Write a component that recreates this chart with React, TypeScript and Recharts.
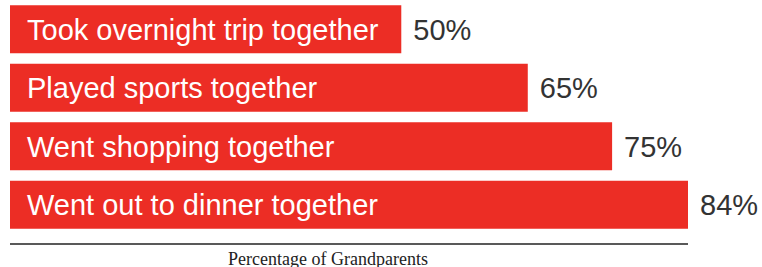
import { Bar, BarChart, LabelList, XAxis, YAxis, Label } from "recharts";

// activities, top to bottom, and share of grandparents who did each
const activities = [
  "Took overnight trip together",
  "Played sports together",
  "Went shopping together",
  "Went out to dinner together",
];
const shares = [50, 65, 75, 84];

// the printed bars do not start at zero, the scale is offset slightly
const xDomain: [number, number] = [3.6, 84];

const RED = "#ec2d25";
const rows = activities.map((name, i) => ({ name, share: shares[i] }));

export default function App() {
  return (
    <div style={{ position: "absolute", left: 0, top: 0, background: "#fff" }}>
      <BarChart
        width={762}
        height={267}
        data={rows}
        layout="vertical"
        margin={{ top: 0, right: 74, bottom: 0, left: 10 }}
        barCategoryGap="9%"
      >
        <XAxis
          type="number"
          domain={xDomain}
          allowDataOverflow
          tick={false}
          tickLine={false}
          axisLine={{ stroke: "#222", strokeWidth: 1.5 }}
          height={23}
        >
          <Label
            value="Percentage of Grandparents"
            position="insideBottom"
            offset={2}
            dx={-21}
            fill="#222"
            fontSize={18}
            fontFamily="'Liberation Serif', 'Times New Roman', serif"
          />
        </XAxis>
        <YAxis
          type="category"
          dataKey="name"
          hide
          padding={{ top: 0, bottom: 10 }}
        />
        <Bar dataKey="share" fill={RED} isAnimationActive={false}>
          <LabelList
            dataKey="name"
            position="insideLeft"
            offset={17}
            fill="#fff"
            fontSize={29}
            fontFamily="'Liberation Sans', Arial, Helvetica, sans-serif"
          />
          <LabelList
            dataKey="share"
            position="right"
            offset={12}
            fill="#333"
            fontSize={29}
            fontFamily="'Liberation Sans', Arial, Helvetica, sans-serif"
            formatter={(v: any) => `${v}%`}
          />
        </Bar>
      </BarChart>
    </div>
  );
}
